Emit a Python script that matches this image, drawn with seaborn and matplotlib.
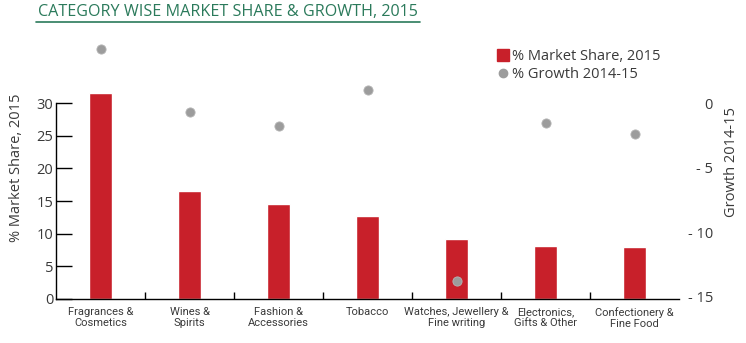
import matplotlib
matplotlib.use("Agg")
import matplotlib.pyplot as plt
import matplotlib.lines as mlines
import seaborn as sns
import pandas as pd

categories = [
    "Fragrances &\nCosmetics",
    "Wines &\nSpirits",
    "Fashion &\nAccessories",
    "Tobacco",
    "Watches, Jewellery &\nFine writing",
    "Electronics,\nGifts & Other",
    "Confectionery &\nFine Food",
]
market_share = [31.5, 16.5, 14.5, 12.7, 9.2, 8.1, 7.9]
growth = [4.2, -0.7, -1.8, 1.0, -13.8, -1.55, -2.4]
left_ticks = [0, 5, 10, 15, 20, 25, 30]
right_ticks = [0, -5, -10, -15]
right_tick_labels = ["0", "- 5", "- 10", "- 15"]

df = pd.DataFrame({"category": categories, "share": market_share, "growth": growth})

sns.set_theme(style="white")
plt.rcParams["font.family"] = ["Open Sans", "DejaVu Sans"]

W, H = 746, 343
fig = plt.figure(figsize=(W / 100, H / 100), dpi=100)
ax_l, ax_r, ax_b, ax_t = 56, 679, 299, 30
ax = fig.add_axes([ax_l / W, 1 - ax_b / H, (ax_r - ax_l) / W, (ax_b - ax_t) / H])

bar_red = "#c8202a"
dot_grey = "#9c9c9c"
text_col = "#3a3a3a"
green = "#2b7a5b"

sns.barplot(data=df, x="category", y="share", color=bar_red, width=0.26,
            saturation=1, ax=ax, zorder=2)
ax.set_xlim(-0.5, len(categories) - 0.5)
ax.set_ylim(0, (ax_b - ax_t) / 6.533)
ax.set_yticks(left_ticks)
ax.tick_params(axis="y", direction="in", length=11.5, width=1, colors="black",
               labelcolor=text_col, labelsize=10.5, pad=2, left=True)
ax.set_ylabel("% Market Share, 2015", color=text_col, fontsize=10.5)
ax.yaxis.set_label_coords((24 - ax_l) / (ax_r - ax_l), (ax_b - 168) / (ax_b - ax_t))
ax.set_xlabel("")
ax.set_xticks(range(len(categories)))
ax.set_xticklabels(categories, fontsize=8.0, color=text_col, linespacing=1.12,
                   family=["Roboto", "DejaVu Sans"])
ax.tick_params(axis="x", length=0, pad=6)
ax.set_xticks([i + 0.5 for i in range(len(categories) - 1)], minor=True)
ax.tick_params(axis="x", which="minor", direction="in", length=5, width=1,
               color="black", bottom=True)
for side in ("top", "right"):
    ax.spines[side].set_visible(False)
for side in ("left", "bottom"):
    ax.spines[side].set_color("black")
    ax.spines[side].set_linewidth(1)
ax.spines["left"].set_bounds(0, 30)

# growth on a secondary axis
ax2 = ax.twinx()
px_unit = 12.93
top_val = (103 - ax_t) / px_unit
bot_val = -15 - (ax_b - 297) / px_unit
sns.scatterplot(data=df, x="category", y="growth", ax=ax2, color=dot_grey,
                s=44, edgecolor="#b5b5b5", linewidth=0.6, zorder=3, legend=False)
ax2.set_ylim(bot_val, top_val)
ax2.set_xlim(-0.5, len(categories) - 0.5)
ax2.set_yticks(right_ticks)
ax2.set_yticklabels(right_tick_labels, ha="right")
ax2.tick_params(axis="y", length=0, pad=24.5, labelsize=10.5, labelcolor=text_col)
ax2.set_ylabel("Growth 2014-15", color=text_col, fontsize=10.5)
ax2.yaxis.set_label_coords((724 - ax_l) / (ax_r - ax_l), (ax_b - 162) / (ax_b - ax_t))
ax2.set_xlabel("")
for side in ("top", "right", "left", "bottom"):
    ax2.spines[side].set_visible(False)

# legend
handles = [
    mlines.Line2D([], [], marker="s", linestyle="none", color=bar_red, markersize=8),
    mlines.Line2D([], [], marker="o", linestyle="none", color=dot_grey, markersize=6),
]
fig.legend(handles, ["% Market Share, 2015", "% Growth 2014-15"],
           loc="upper left", bbox_to_anchor=(490 / W, 1 - 43 / H), frameon=False,
           fontsize=10.5, handletextpad=0.1, handlelength=1.0, labelspacing=0.2,
           borderaxespad=0, labelcolor=text_col)

# title with underline
fig.text(38 / W, 1 - 12 / H, "CATEGORY WISE MARKET SHARE & GROWTH, 2015",
         color=green, fontsize=11.6, va="center", ha="left")
fig.add_artist(mlines.Line2D([36 / W, 420 / W], [1 - 22 / H, 1 - 22 / H],
                             color=green, linewidth=1.2))

fig.savefig("out.png", dpi=100)
